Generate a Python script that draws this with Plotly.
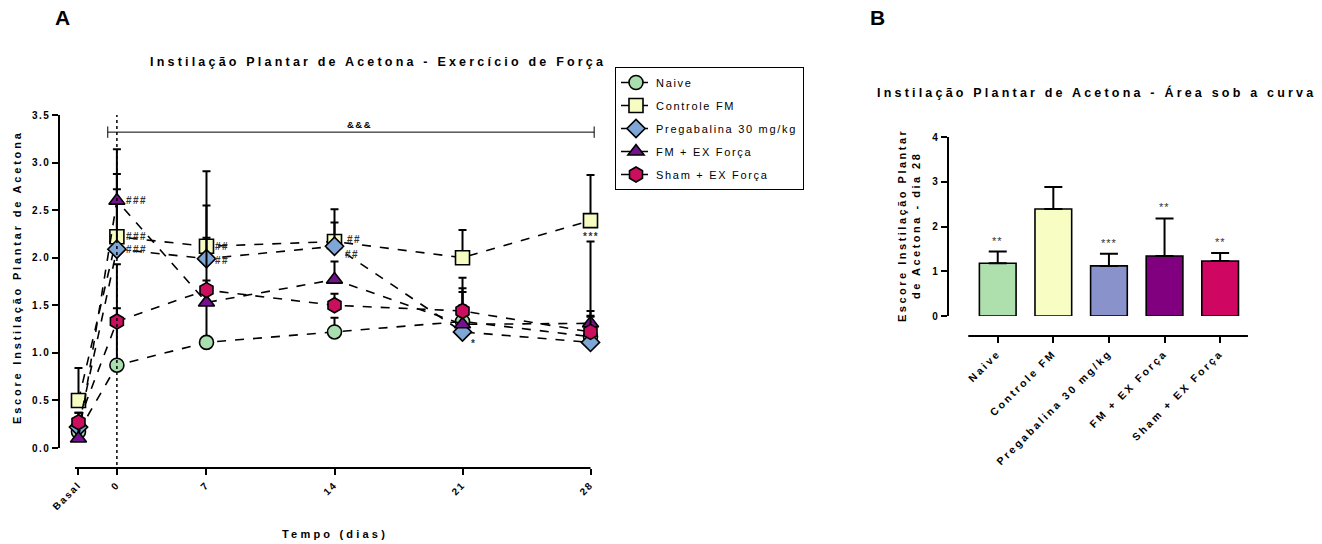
import plotly.graph_objects as go

W, H = 1322, 544

# ---------------- data ----------------
grupos = ["Naive", "Controle FM", "Pregabalina 30 mg/kg", "FM + EX Força", "Sham + EX Força"]
tempo_labels = ["Basal", "0", "7", "14", "21", "28"]
tempo_x = [0, 2.1, 7, 14, 21, 28]

naive_media = [0.17, 0.87, 1.11, 1.22, 1.33, 1.17]
naive_erro = [0.12, 0.60, 0.40, 0.15, 0.35, 0.27]
controle_media = [0.50, 2.22, 2.12, 2.17, 2.00, 2.39]
controle_erro = [0.34, 0.66, 0.79, 0.34, 0.29, 0.48]
pregabalina_media = [0.22, 2.09, 1.99, 2.12, 1.22, 1.11]
pregabalina_erro = [0.15, 0.63, 0.56, 0.25, 0.42, 0.27]
fm_ex_media = [0.10, 2.60, 1.53, 1.77, 1.30, 1.31]
fm_ex_erro = [0.20, 0.54, 0.68, 0.19, 0.20, 0.86]
sham_ex_media = [0.27, 1.33, 1.66, 1.50, 1.44, 1.22]
sham_ex_erro = [0.10, 0.60, 0.10, 0.12, 0.35, 0.17]

auc_media = [1.18, 2.39, 1.12, 1.34, 1.23]
auc_erro = [0.26, 0.49, 0.27, 0.84, 0.18]
auc_signif = ["**", "", "***", "**", "**"]

# ---------------- styles ----------------
FONT = "Liberation Sans, Arial, sans-serif"
cores_marker = ["#a9dfae", "#f6fcc2", "#7ea6d6", "#73128c", "#cc0e5f"]
cores_barra = ["#aee0ad", "#f8fec3", "#8a92cc", "#800080", "#cf0662"]
simbolos = ["circle", "square", "diamond", "triangle-up", "hexagon"]
tamanhos = [14, 14, 14, 14, 15]


def esp(t, s):
    return f'<span style="letter-spacing:{s}px">{t}</span>'


def px_y(p):
    return 1 - p / H


fig = go.Figure()

series_media = [naive_media, controle_media, pregabalina_media, fm_ex_media, sham_ex_media]
series_erro = [naive_erro, controle_erro, pregabalina_erro, fm_ex_erro, sham_ex_erro]

for i, nome in enumerate(grupos):
    fig.add_trace(go.Scatter(
        x=tempo_x, y=series_media[i], name=esp(nome, 1.7), legendgroup=f"g{i}",
        mode="lines+markers", cliponaxis=False,
        line=dict(color="black", width=1.6, dash="dash"),
        marker=dict(symbol=simbolos[i], size=tamanhos[i], color=cores_marker[i],
                    line=dict(color="black", width=1.6)),
        error_y=dict(type="data", symmetric=False, array=series_erro[i],
                     arrayminus=[0] * len(series_erro[i]),
                     color="black", thickness=2, width=4),
        xaxis="x", yaxis="y",
    ))

fig.add_trace(go.Bar(
    x=list(range(len(grupos))), y=auc_media, showlegend=False, width=0.66,
    marker=dict(color=cores_barra, line=dict(color="black", width=1.6)),
    error_y=dict(type="data", symmetric=False, array=auc_erro,
                 arrayminus=[0] * len(auc_erro), color="black", thickness=2, width=9),
    xaxis="x2", yaxis="y2", cliponaxis=False,
))

tick_font = dict(family=FONT, size=10, color="black", weight="bold")
tick_font_b = dict(family=FONT, size=10.5, color="black", weight="bold")

fig.update_layout(
    template="none",
    width=W, height=H, margin=dict(l=0, r=0, t=0, b=0, pad=0, autoexpand=False),
    paper_bgcolor="white", plot_bgcolor="white",
    font=dict(family=FONT, color="black"),
    xaxis=dict(domain=[60.2 / W, 608.8 / W], range=[-1, 29], anchor="free",
               position=px_y(468), showline=False, showgrid=False, zeroline=False,
               automargin=False,
               ticks="outside", ticklen=6, tickwidth=2, tickcolor="black",
               tickvals=tempo_x, ticktext=[esp(t, 1.8) for t in tempo_labels],
               tickangle=-45, tickfont=tick_font),
    yaxis=dict(domain=[px_y(448), px_y(115)], range=[0, 3.5], anchor="x",
               showline=True, linewidth=2, linecolor="black", showgrid=False,
               zeroline=False, automargin=False, ticks="outside", ticklen=6, tickwidth=2,
               tickcolor="black", tickvals=[0, 0.5, 1, 1.5, 2, 2.5, 3, 3.5],
               ticktext=[esp(f"{v:.1f}", 1.4) for v in [0, 0.5, 1, 1.5, 2, 2.5, 3, 3.5]],
               tickfont=tick_font),
    xaxis2=dict(domain=[948.8 / W, 1253.5 / W], range=[-0.88, 4.6], anchor="free",
                position=px_y(336), showline=False, showgrid=False, zeroline=False,
                automargin=False,
                ticks="outside", ticklen=6, tickwidth=2, tickcolor="black",
                tickvals=list(range(len(grupos))),
                ticktext=[esp(g, 2.5) for g in grupos], tickangle=-45,
                tickfont=tick_font_b),
    yaxis2=dict(domain=[px_y(316), px_y(137)], range=[0, 4], anchor="x2",
                showline=True, linewidth=2, linecolor="black", showgrid=False,
                zeroline=False, automargin=False, ticks="outside", ticklen=6, tickwidth=2,
                tickcolor="black", tickvals=[0, 1, 2, 3, 4],
                ticktext=[esp(str(v), 1) for v in [0, 1, 2, 3, 4]], tickfont=tick_font),
    legend=dict(x=615 / W, y=px_y(67), xanchor="left", yanchor="top",
                bordercolor="black", borderwidth=1, bgcolor="white",
                font=dict(family=FONT, size=11, color="black"),
                tracegroupgap=4, itemwidth=30),
    showlegend=True,
)

shapes = [
    dict(type="line", xref="x", yref="paper", x0=-0.19, x1=28, y0=px_y(468), y1=px_y(468),
         line=dict(color="black", width=2)),
    dict(type="line", xref="x", yref="paper", x0=tempo_x[1], x1=tempo_x[1],
         y0=px_y(465), y1=px_y(115), line=dict(color="black", width=1.5, dash="dot")),
    dict(type="line", xref="x", yref="y", x0=1.6, x1=28.2, y0=3.32, y1=3.32,
         line=dict(color="black", width=1)),
    dict(type="line", xref="x", yref="y", x0=1.6, x1=1.6, y0=3.26, y1=3.38,
         line=dict(color="black", width=1)),
    dict(type="line", xref="x", yref="y", x0=28.2, x1=28.2, y0=3.26, y1=3.38,
         line=dict(color="black", width=1)),
    dict(type="line", xref="x2", yref="paper", x0=-0.53, x1=4.5, y0=px_y(336), y1=px_y(336),
         line=dict(color="black", width=2)),
]
fig.update_layout(shapes=shapes)

ann = []
bold = dict(family=FONT, color="black", weight="bold")


def texto(t, xp, yp, size, angle=0):
    return dict(text=t, x=xp / W, y=px_y(yp), xref="paper", yref="paper", showarrow=False,
                xanchor="center", yanchor="middle", textangle=angle,
                font=dict(size=size, **bold))


ann.append(texto("A", 62, 18, 21))
ann.append(texto("B", 877, 18, 21))
ann.append(texto(esp("Instilação Plantar de Acetona - Exercício de Força", 3.2), 378, 62, 12.5))
ann.append(texto(esp("Instilação Plantar de Acetona - Área sob a curva", 3.2), 1096, 93, 12.5))
ann.append(texto(esp("Escore Instilação Plantar de Acetona", 2.8), 17, 277, 11, -90))
ann.append(texto(esp("Tempo (dias)", 3.2), 335, 534, 11))
ann.append(texto(esp("Escore Instilação Plantar", 2.5) + "<br>" + esp("de Acetona - dia 28", 2.5),
                 909, 225, 11, -90))
ann.append(dict(text=esp("&&&", 1.5), x=15.34, y=3.32, xref="x", yref="y", showarrow=False,
                xanchor="center", yanchor="bottom", font=dict(size=9.5, **bold)))

sig = dict(family=FONT, color="#333333", size=10, weight="bold")
marcas_a = [
    ("###", tempo_x[1], fm_ex_media[1], 7, 0, "left"),
    ("###", tempo_x[1], controle_media[1], 7, 0, "left"),
    ("###", tempo_x[1], pregabalina_media[1], 7, 0, "left"),
    ("##", tempo_x[2], controle_media[2], 7, 0, "left"),
    ("##", tempo_x[2], pregabalina_media[2], 7, -2, "left"),
    ("##", tempo_x[3], controle_media[3], 10, 2, "left"),
    ("##", tempo_x[3], pregabalina_media[3], 8, -8, "left"),
    ("*", tempo_x[4], pregabalina_media[4], 6, -12, "left"),
    ("***", tempo_x[5], controle_media[5], 0, -16, "center"),
]
for t, x, y, xs, ys, xa in marcas_a:
    ann.append(dict(text=esp(t, 1.5), x=x, y=y, xref="x", yref="y", showarrow=False,
                    xshift=xs, yshift=ys, xanchor=xa, yanchor="middle", font=sig))

for i, s in enumerate(auc_signif):
    if s:
        ann.append(dict(text=esp(s, 1), x=i, y=auc_media[i] + auc_erro[i], xref="x2", yref="y2",
                        showarrow=False, xanchor="center", yanchor="bottom", yshift=3,
                        font=dict(family=FONT, color="#333333", size=11)))

fig.update_layout(annotations=ann)

fig.write_html("out.html", config={"displayModeBar": False},
               post_script="document.body.style.margin='0';")
